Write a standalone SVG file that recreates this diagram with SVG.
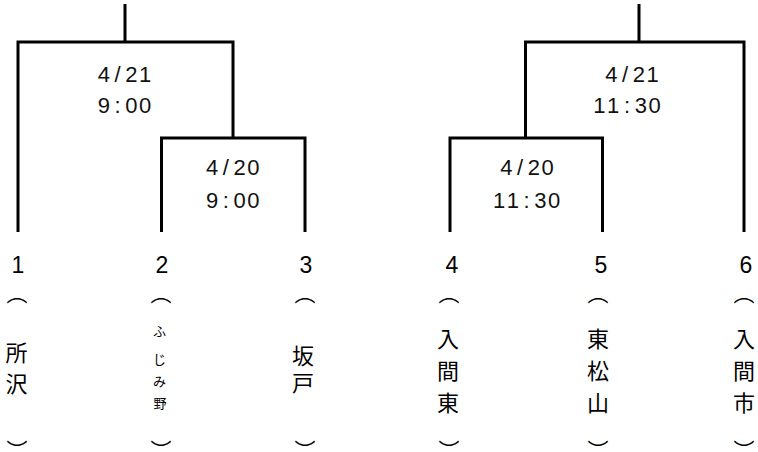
<svg xmlns="http://www.w3.org/2000/svg" width="758" height="452" viewBox="0 0 758 452">
<style>
.ln{fill:none;stroke:#000;stroke-width:3;stroke-linejoin:miter;stroke-linecap:butt}
.dt{font-family:"Liberation Sans",Arial,sans-serif;font-size:22px;fill:#111;text-anchor:middle}
.num{font-family:"Liberation Sans",Arial,sans-serif;font-size:23px;fill:#000;text-anchor:middle}
.jp{font-family:"Noto Sans CJK JP","Noto Sans CJK SC",sans-serif;font-size:22px;fill:#000;text-anchor:middle}
.pr{font-family:"Noto Sans CJK JP","Noto Sans CJK SC",sans-serif;font-size:21px;fill:#000;text-anchor:middle}
.jps{font-family:"Noto Sans CJK JP","Noto Sans CJK SC",sans-serif;font-size:13px;fill:#000;text-anchor:middle}
</style>
<g id="connectors">
<path class="ln" d="M125,4 V42 M18,232 V42 H233 V138 M161.5,232 V138 H305 V232"/>
<path class="ln" d="M639,4 V42 M525.5,138 V42 H744 V232 M450,232 V138 H602.5 V232"/>
</g>
<g id="match-left-final">
<text class="dt" x="103.8 117.6 131.4 145.2" y="82">4/21</text>
<text class="dt" x="103.8 117.6 131.4 145.2" y="113">9:00</text>
</g>
<g id="match-left-semi">
<text class="dt" x="212 225.8 239.6 253.4" y="175">4/20</text>
<text class="dt" x="212 225.8 239.6 253.4" y="208">9:00</text>
</g>
<g id="match-right-final">
<text class="dt" x="611.3 625.1 638.9 652.7" y="82">4/21</text>
<text class="dt" x="599.4 613.2 627 640.8 654.6" y="113">11:30</text>
</g>
<g id="match-right-semi">
<text class="dt" x="506.3 520.1 533.9 547.7" y="175">4/20</text>
<text class="dt" x="499 512.8 526.6 540.4 554.2" y="208">11:30</text>
</g>
<g id="team-1">
<text class="num" x="18" y="273">1</text>
<text class="pr" x="17" y="301">︵</text>
<text class="jp" x="16.5" y="361">所</text>
<text class="jp" x="16.5" y="392">沢</text>
<text class="pr" x="17" y="458">︶</text>
</g>
<g id="team-2">
<text class="num" x="162" y="273">2</text>
<text class="pr" x="161" y="301">︵</text>
<text class="jps" x="159.5" y="336">ふ</text>
<text class="jps" x="159.5" y="364">じ</text>
<text class="jps" x="159.5" y="386">み</text>
<text class="jps" x="160" y="408">野</text>
<text class="pr" x="161" y="458">︶</text>
</g>
<g id="team-3">
<text class="num" x="306" y="273">3</text>
<text class="pr" x="305" y="301">︵</text>
<text class="jp" x="303" y="364">坂</text>
<text class="jp" x="303" y="391">戸</text>
<text class="pr" x="305" y="458">︶</text>
</g>
<g id="team-4">
<text class="num" x="452" y="273">4</text>
<text class="pr" x="449" y="301">︵</text>
<text class="jp" x="448" y="347">入</text>
<text class="jp" x="448" y="379">間</text>
<text class="jp" x="448" y="411">東</text>
<text class="pr" x="449" y="458">︶</text>
</g>
<g id="team-5">
<text class="num" x="601" y="273">5</text>
<text class="pr" x="598" y="301">︵</text>
<text class="jp" x="598" y="347">東</text>
<text class="jp" x="598" y="379">松</text>
<text class="jp" x="598" y="411">山</text>
<text class="pr" x="598" y="458">︶</text>
</g>
<g id="team-6">
<text class="num" x="746" y="273">6</text>
<text class="pr" x="744" y="301">︵</text>
<text class="jp" x="744" y="347">入</text>
<text class="jp" x="744" y="379">間</text>
<text class="jp" x="744" y="411">市</text>
<text class="pr" x="744" y="458">︶</text>
</g>
</svg>
